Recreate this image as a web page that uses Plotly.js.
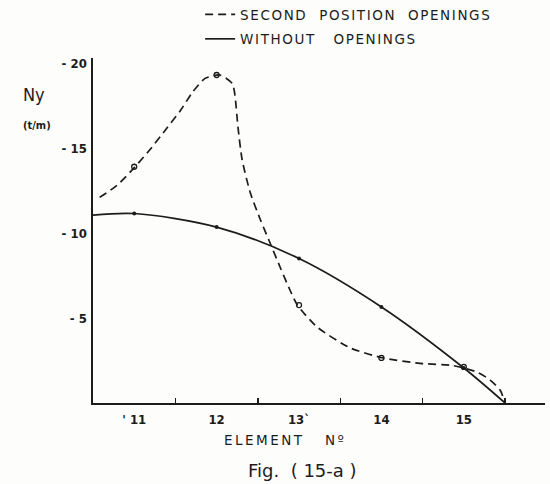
<!DOCTYPE html>
<html>
<head>
<meta charset="utf-8">
<script src="https://cdn.plot.ly/plotly-3.0.1.min.js"></script>
<style>
  html, body { margin: 0; padding: 0; background: #fdfdfb; }
  #chart { width: 550px; height: 484px; }
  #chart .legendtext { letter-spacing: 1.6px; }
  #chart .legend .scrollbox { clip-path: none !important; }
  #chart .annotation-text.spaced { letter-spacing: 2.5px; }
</style>
</head>
<body>
<div id="chart"></div>
<script>
// Element numbers (centres of the elements) and the tick labels under them
const elements = [11, 12, 13, 14, 15];
const elementLabels = ["' 11", "12", "13`", "14", "15"];
// Element boundaries (nodes) carry the small tick marks
const nodes = [11.5, 12.5, 13.5, 14.5, 15.5];

// Ny values (t/m, compression plotted upward) without openings
const withoutX = [10.5, 11, 12, 13, 14, 15, 15.5];
const withoutY = [11.05, 11.15, 10.35, 8.5, 5.65, 2.06, 0];

// Ny values with openings in the second position
const secondX = [10.58, 10.79, 11.01, 11.19, 11.40, 11.56, 11.71, 11.86, 12.04, 12.19, 12.22, 12.26, 12.31, 12.41, 12.53, 12.65, 12.77, 12.89, 12.98, 13.22, 13.62, 14.02, 14.47, 14.87, 15.16, 15.32, 15.44, 15.5];
const secondY = [12.1, 12.8, 13.9, 14.9, 16.2, 17.2, 18.3, 19.1, 19.3, 18.8, 18.2, 16.2, 14.3, 12.35, 10.8, 9.4, 8.0, 6.65, 5.76, 4.47, 3.24, 2.65, 2.33, 2.2, 1.82, 1.35, 0.76, 0];

// Values at the element centres (marked points)
const withoutAtElements = [11.15, 10.35, 8.5, 5.65, 2.06];
const secondAtElements = [13.9, 19.3, 5.76, 2.65, 2.12];

// Y tick values and their labels (compressive, hence the minus sign)
const yTicks = [5, 10, 15, 20];
const yTickLabels = ["- 5", "- 10", "- 15", "- 20"];

const ink = "#1c1c1c";
const font = "Liberation Sans Narrow, DejaVu Sans Condensed, Arial, sans-serif";
const wideFont = "DejaVu Sans, sans-serif";

const traces = [
  {
    x: secondX, y: secondY, type: "scatter", mode: "lines",
    name: "SECOND  POSITION  OPENINGS",
    line: { color: ink, width: 1.7, dash: "8px,5px", shape: "spline", smoothing: 0.6 },
    legendgroup: "a", hoverinfo: "skip"
  },
  {
    x: withoutX, y: withoutY, type: "scatter", mode: "lines",
    name: "WITHOUT   OPENINGS",
    line: { color: ink, width: 1.7, shape: "spline", smoothing: 0.9 },
    legendgroup: "b", hoverinfo: "skip"
  },
  {
    x: elements, y: secondAtElements, type: "scatter", mode: "markers",
    showlegend: false,
    marker: { symbol: "circle-open", size: 5, color: ink, line: { width: 1.3, color: ink } }
  },
  {
    x: elements, y: withoutAtElements, type: "scatter", mode: "markers",
    showlegend: false,
    marker: { symbol: "circle", size: 4, color: ink }
  }
];

const layout = {
  width: 550, height: 484,
  margin: { l: 93, r: 5, t: 58, b: 81, autoexpand: false },
  paper_bgcolor: "#fdfdfb",
  plot_bgcolor: "#fdfdfb",
  font: { family: font, color: ink, size: 13 },
  showlegend: true,
  legend: {
    x: 0.237, y: 1.171, xanchor: "left", yanchor: "top",
    bgcolor: "rgba(0,0,0,0)",
    font: { family: wideFont, size: 13.5, color: ink },
    tracegroupgap: 4,
    traceorder: "grouped"
  },
  xaxis: {
    range: [10.5, 15.985],
    showline: true, linecolor: ink, linewidth: 1.6,
    showgrid: false, zeroline: false,
    tickmode: "array", tickvals: elements, ticktext: elementLabels,
    ticks: "", ticklabelstandoff: 4,
    tickfont: { family: font, size: 13, color: ink, weight: "bold" },
    minor: { tickmode: "array", tickvals: nodes, ticks: "inside", ticklen: 5, tickwidth: 1.4, tickcolor: ink, showgrid: false }
  },
  yaxis: {
    range: [0, 20.3],
    showline: true, linecolor: ink, linewidth: 1.6,
    showgrid: false, zeroline: false,
    tickmode: "array", tickvals: yTicks, ticktext: yTickLabels,
    ticks: "", ticklabelstandoff: 2,
    tickfont: { family: font, size: 13, color: ink, weight: "bold" }
  },
  annotations: [
    { text: "Ny", xref: "paper", yref: "paper", x: -0.13, y: 0.895, xanchor: "center", yanchor: "middle",
      showarrow: false, font: { family: font, size: 18, color: ink } },
    { text: "(t/m)", xref: "paper", yref: "paper", x: -0.125, y: 0.805, xanchor: "center", yanchor: "middle",
      showarrow: false, font: { family: font, size: 11, color: ink, weight: "bold" } },
    { text: "ELEMENT   Nº", xref: "paper", yref: "paper", x: 0.425, y: -0.107, xanchor: "center", yanchor: "middle",
      showarrow: false, font: { family: wideFont, size: 13.5, color: ink } },
    { text: "Fig.  ( 15-a )", xref: "paper", yref: "paper", x: 0.463, y: -0.195, xanchor: "center", yanchor: "middle",
      showarrow: false, font: { family: wideFont, size: 18, color: ink } }
  ]
};

Plotly.newPlot("chart", traces, layout, { displayModeBar: false, staticPlot: true }).then(function () {
  // widen the lettering of the axis caption
  const notes = document.querySelectorAll("#chart .annotation-text");
  if (notes[2]) notes[2].classList.add("spaced");
});
</script>
</body>
</html>
